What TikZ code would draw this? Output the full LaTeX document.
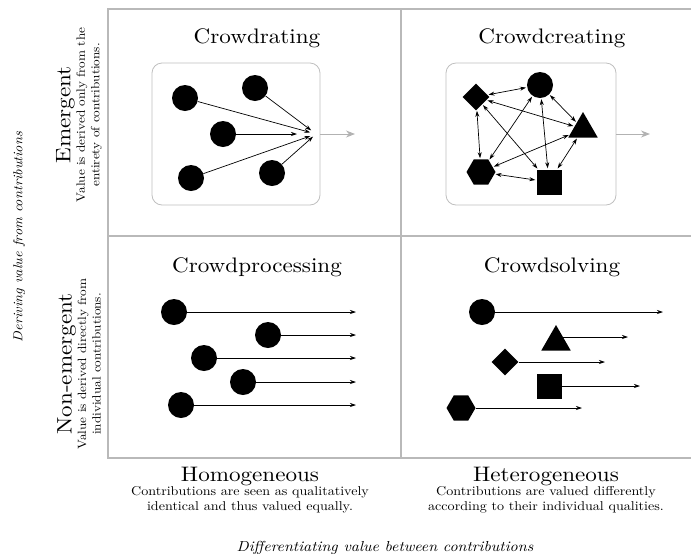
\documentclass[tikz,border=0pt]{standalone}
\usepackage{fontspec}
\setmainfont{lmroman10-regular.otf}[ItalicFont=lmroman10-italic.otf, FakeStretch=1.1]
\usetikzlibrary{shapes.geometric,arrows.meta}
\begin{document}
\begin{tikzpicture}[x=1pt,y=-1pt,
  gridline/.style={draw=gray!55, line width=1.3pt},
  panel/.style={draw=gray!50, rounded corners=10pt, line width=0.8pt, inner sep=0pt},
  dot/.style={circle, fill=black, inner sep=0pt, minimum size=26pt},
  dia/.style={diamond, fill=black, inner sep=0pt, minimum size=27pt},
  tri/.style={regular polygon, regular polygon sides=3, fill=black, inner sep=0pt, minimum size=34pt},
  hexa/.style={regular polygon, regular polygon sides=6, fill=black, inner sep=0pt, minimum size=29pt},
  sq/.style={rectangle, fill=black, inner sep=0pt, minimum size=25pt},
  arr/.style={-{Stealth[length=6pt,width=4pt]}, line width=0.7pt},
  darr/.style={{Stealth[length=6pt,width=4pt]}-{Stealth[length=6pt,width=4pt]}, line width=0.7pt, shorten <=1pt, shorten >=1pt},
  outarr/.style={-{Stealth[length=9pt,width=7pt]}, draw=gray!60, line width=1pt},
  title/.style={anchor=base, font=\fontsize{21}{24}\selectfont},
  axistitle/.style={align=center, font=\fontsize{12.8}{14.8}\selectfont},
  sidetitle/.style={align=center, font=\fontsize{12}{14.5}\selectfont},
  axislabel/.style={font=\fontsize{14.5}{16}\selectfont\itshape},
  sidelabel/.style={font=\fontsize{13}{15}\selectfont\itshape}
]
\useasboundingbox (0,0) rectangle (691,558);

% grid
\coordinate (tl) at (108,9);
\coordinate (tr) at (691,9);
\coordinate (bl) at (108,458);
\coordinate (br) at (691,458);
\coordinate (tm) at (401,9);
\coordinate (bm) at (401,458);
\coordinate (ml) at (108,236);
\coordinate (mr) at (691,236);
\draw[gridline] (tr) -- (tl) -- (bl) -- (br);
\draw[gridline] (tm) -- (bm);
\draw[gridline] (ml) -- (mr);

% titles
\node[title] (t1) at (257,43) {Crowdrating};
\node[title] (t2) at (552,43) {Crowdcreating};
\node[title] (t3) at (257,272) {Crowdprocessing};
\node[title] (t4) at (552,272) {Crowdsolving};

% Crowdrating
\node[panel, minimum width=168pt, minimum height=142pt] (rbox) at (236,134) {};
\node[dot] (c1) at (185,98) {};
\node[dot] (c2) at (255,88) {};
\node[dot] (c3) at (223,134) {};
\node[dot] (c4) at (191,178) {};
\node[dot] (c5) at (272,173) {};
\coordinate (conv) at (316,134);
\draw[arr, shorten >=6pt] (c1) -- (conv);
\draw[arr, shorten >=6pt] (c2) -- (conv);
\draw[arr, shorten >=19pt] (c3) -- (conv);
\draw[arr, shorten >=6pt] (c4) -- (conv);
\draw[arr, shorten >=4pt] (c5) -- (conv);
\coordinate (rout) at (355,134);
\draw[outarr] (rbox) -- (rout);

% Crowdcreating
\node[panel, minimum width=170pt, minimum height=142pt] (cbox) at (531,134) {};
\node[dot] (k1) at (540,85) {};
\node[dia] (k2) at (476,97) {};
\node[tri] (k3) at (583,129) {};
\node[hexa] (k4) at (481,172) {};
\node[sq] (k5) at (549,182) {};
\foreach \a/\b in {k1/k2,k1/k3,k1/k4,k1/k5,k2/k3,k2/k4,k2/k5,k3/k4,k3/k5,k4/k5}
  \draw[darr] (\a) -- (\b);
\coordinate (cout) at (650,134);
\draw[outarr] (cbox) -- (cout);

% Crowdprocessing
\node[dot] (p1) at (174,312) {};
\node[dot] (p2) at (268,335) {};
\node[dot] (p3) at (204,358) {};
\node[dot] (p4) at (243,382) {};
\node[dot] (p5) at (181,405) {};
\coordinate (pend) at (356,0);
\foreach \p in {p1,p2,p3,p4,p5}
  \draw[arr] (\p) -- (\p -| pend);

% Crowdsolving
\node[dot] (s1) at (482,312) {};
\node[tri] (s2) at (556,342) {};
\node[dia] (s3) at (505,362) {};
\node[sq] (s4) at (549,386) {};
\node[hexa] (s5) at (461,408) {};
\coordinate (s1e) at (663,312);
\coordinate (s2e) at (628,337);
\coordinate (s3e) at (605,362);
\coordinate (s4e) at (640,386);
\coordinate (s5e) at (582,408);
\draw[arr] (s1) -- (s1e);
\draw[arr] ([yshift=5pt]s2.center) -- (s2e);
\draw[arr] (s3) -- (s3e);
\draw[arr] (s4) -- (s4e);
\draw[arr] (s5) -- (s5e);

% left labels
\node[sidetitle, rotate=90] (emerg) at (79,115)
  {{\fontsize{21}{24}\selectfont Emergent}\\Value is derived only from the\\entirety of contributions.};
\node[sidetitle, rotate=90] (nonemerg) at (79,364)
  {{\fontsize{21}{24}\selectfont Non-emergent}\\Value is derived directly from\\individual contributions.};
\node[sidelabel, rotate=90] (yaxis) at (19,237) {Deriving value from contributions};

% bottom labels
\node[axistitle] (homog) at (250,490)
  {{\fontsize{21}{24}\selectfont Homogeneous}\\Contributions are seen as qualitatively\\identical and thus valued equally.};
\node[axistitle] (heterog) at (546,490)
  {{\fontsize{21}{24}\selectfont Heterogeneous}\\Contributions are valued differently\\according to their individual qualities.};
\node[axislabel] (xaxis) at (385,548) {Differentiating value between contributions};
\end{tikzpicture}
\end{document}
